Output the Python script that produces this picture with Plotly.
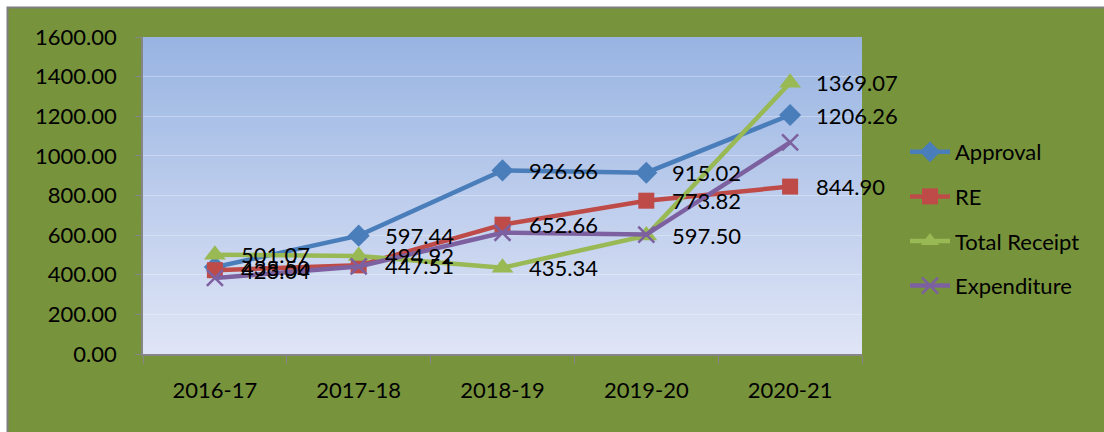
import plotly.graph_objects as go

# Financial years and series values (₹ crore)
years = ["2016-17", "2017-18", "2018-19", "2019-20", "2020-21"]
approval = [438.50, 597.44, 926.66, 915.02, 1206.26]
revised_estimate = [423.04, 447.51, 652.66, 773.82, 844.90]
total_receipt = [501.07, 494.92, 435.34, 597.50, 1369.07]
expenditure = [384.0, 442.0, 612.0, 603.0, 1068.0]

W, H = 1104, 432
ML, MR, MT, MB = 143, 242, 37, 78
PW, PH = W - ML - MR, H - MT - MB

FONT = "Lato"
GREEN_BG = "#77933C"


def px_x(p):
    return (p - ML) / PW


def px_y(p):
    return (H - MB - p) / PH


fig = go.Figure()

series = [
    ("Approval", approval, "#4A7EBB", dict(symbol="diamond", size=17), True),
    ("RE", revised_estimate, "#BE4B48", dict(symbol="square", size=16), True),
    ("Total Receipt", total_receipt, "#98B954", dict(symbol="triangle-up", size=19), True),
    ("Expenditure", expenditure, "#7D60A0",
     dict(symbol="x-thin", size=16, line=dict(width=2.5, color="#7D60A0")), False),
]

annotations = []
for i, (name, vals, color, mk, labelled) in enumerate(series):
    fig.add_trace(go.Scatter(
        x=years, y=vals, name=name,
        mode="lines+markers",
        line=dict(color=color, width=4.5),
        marker=dict(color=color, **mk),
        legendgroup=f"g{i}",
        cliponaxis=False,
    ))
    if labelled:
        for yr, v in zip(years, vals):
            annotations.append(dict(
                x=yr, y=v, xref="x", yref="y", text=f"{v:.2f}",
                showarrow=False, xanchor="left", yanchor="middle", xshift=24,
                font=dict(family=FONT, size=22, color="black"),
            ))

shapes = []
# outer chart frame
shapes.append(dict(type="rect", xref="paper", yref="paper",
                   x0=px_x(7.5), x1=px_x(W + 10), y0=px_y(H + 10), y1=px_y(7.5),
                   fillcolor=GREEN_BG, line=dict(color="#7F7F7F", width=2),
                   layer="below"))
# vertical gradient inside the plot area (stacked so no seams show)
top = (152, 180, 226)
bot = (224, 229, 246)
n = 60
for k in range(n):
    t = (k + 0.5) / n
    c = tuple(round(top[j] + (bot[j] - top[j]) * t) for j in range(3))
    shapes.append(dict(type="rect", xref="x domain", yref="y domain",
                       x0=0, x1=1, y0=0, y1=1 - k / n,
                       fillcolor=f"rgb{c}", line=dict(width=0), layer="below"))

fig.update_layout(
    width=W, height=H,
    margin=dict(l=ML, r=MR, t=MT, b=MB, pad=0),
    paper_bgcolor="white",
    plot_bgcolor="rgba(0,0,0,0)",
    shapes=shapes,
    annotations=annotations,
    font=dict(family=FONT, size=22, color="black"),
    legend=dict(
        x=px_x(905), y=px_y(131), xanchor="left", yanchor="top",
        bgcolor="rgba(0,0,0,0)", font=dict(family=FONT, size=22, color="black"),
        tracegroupgap=13, itemwidth=40,
    ),
    xaxis=dict(
        type="category", range=[-0.5, 4.5],
        showline=True, linecolor="#868686", linewidth=1.5,
        ticks="outside", tickson="boundaries", ticklen=8, tickcolor="#868686",
        tickfont=dict(family=FONT, size=22, color="black"),
        ticklabelstandoff=16, showgrid=False,
    ),
    yaxis=dict(
        range=[0, 1600], dtick=200, tickformat=".2f",
        showline=True, linecolor="#868686", linewidth=1.5,
        ticks="outside", ticklen=6, tickcolor="#868686",
        tickfont=dict(family=FONT, size=22, color="black"),
        ticklabelstandoff=14,
        showgrid=True, gridcolor="rgba(255,255,255,0.3)", gridwidth=1,
        zeroline=False,
    ),
)

fig.write_html("out.html")
